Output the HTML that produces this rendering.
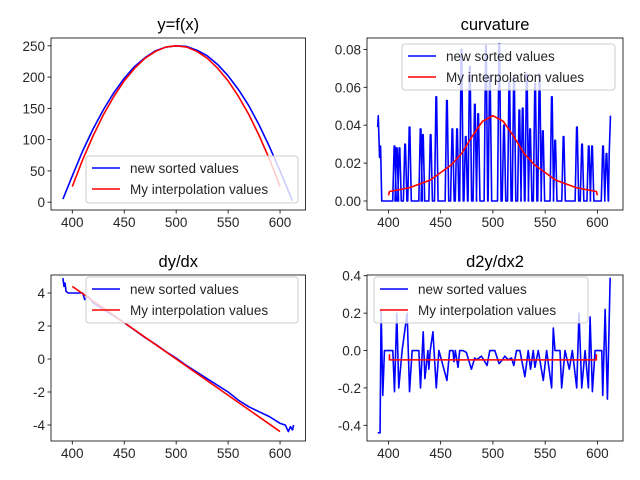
<!DOCTYPE html>
<html><head><meta charset="utf-8"><style>
body{margin:0;background:#fff;}
svg{display:block;font-family:"Liberation Sans","DejaVu Sans",sans-serif;}
</style></head><body>
<svg id="fig" width="640" height="480" viewBox="0 0 640 480"></svg>
<script>
// ---- data ----
const fBlueX=[391,400,410,420,430,440,450,460,470,480,490,500,510,520,530,540,550,560,570,580,590,600,612];
const fBlueY=[5,42,82,117,148,175,198,217,231,242,248,250,249,243,234,220,202,180,154,123,88,50,2];
const fRedX=[400,410,420,430,440,450,460,470,480,490,500,510,520,530,540,550,560,570,580,590,600];
const fRedY=[25,68,106,140,169,194,214,230,241,248,250,248,241,230,214,194,169,140,106,68,25];

const cStartX=[389.7,390.3,391.5,392.5,393.6,403.5];
const cStartY=[0.039,0.045,0.023,0.029,0,0];
const cSpikeX=[405.8,408,410.6,416,420.2,430.8,433,440.4,445.8,456,461.2,465.7,469.9,474,477.9,482.7,485.9,493.3,497.1,506.1,510.6,515.7,520.2,525.3,528.5,532.4,535.6,540.4,544.6,547.8,556.4,559.6,567.6,580.4,585.3,591.7,594.9,605.4,608.7];
const cSpikeY=[0.029,0.028,0.028,0.030,0.039,0.038,0.035,0.035,0.055,0.053,0.038,0.038,0.080,0.034,0.071,0.051,0.046,0.082,0.066,0.083,0.040,0.063,0.066,0.048,0.049,0.067,0.038,0.062,0.067,0.037,0.055,0.032,0.034,0.039,0.030,0.029,0.029,0.029,0.025];
const cEndX=[610.6,611.3,612.5];
const cEndY=[0,0.025,0.045];
const cRedX=[400,401,420,440,460,470,480,490,500,510,520,530,540,560,580,599,600];
const cRedY=[0.003,0.005,0.007,0.011,0.019,0.025,0.034,0.042,0.045,0.042,0.034,0.025,0.019,0.011,0.007,0.005,0.003];

const dBlueX=[391,392,393,394,396,400,410,412,415,420,430,440,450,460,470,480,490,500,510,520,530,540,550,560,570,580,590,600,605,608,610,612,613];
const dBlueY=[4.9,4.4,4.6,4.1,4.0,4.0,4.0,3.6,3.8,3.4,3.0,2.6,2.2,1.75,1.3,0.9,0.45,0.05,-0.4,-0.8,-1.2,-1.6,-2.0,-2.5,-2.9,-3.2,-3.5,-3.9,-4.0,-4.4,-4.1,-4.3,-4.0];
const dRedX=[400,600];
const dRedY=[4.4,-4.4];

const sBlueX=[389.8,392,393,394.6,396.2,404.2,405.8,408,409.9,413.1,417.9,420.2,422.7,429.1,430.7,433.3,434.9,437.8,438.7,440,442.6,445.8,448.3,456,458.6,461.8,462.7,464,466.6,468.2,471.4,474.6,479.4,482.6,484.2,486.7,489,491.2,494.4,497,501.8,505.9,509.1,511.4,514.6,517.8,520,522.6,525.8,530.6,533.8,536,538.6,540.2,543.4,548.2,551.4,556.2,557.8,559.4,564.2,565.8,569,573.1,576,580.2,582.4,585,588.2,591.4,593,595.2,597.8,604.2,605.1,607.4,609.6,612.2];
const sBlueY=[-0.44,-0.44,0.22,-0.24,0,0,-0.22,0.2,-0.2,0,0.2,-0.22,0,0,-0.2,0.1,-0.15,0,-0.1,0,0.1,-0.2,0,-0.16,0,0,-0.06,0,-0.09,0,0,-0.01,-0.1,-0.04,-0.05,-0.04,-0.03,-0.05,-0.08,0,0,-0.07,-0.05,-0.03,-0.05,-0.04,-0.08,0,0,-0.14,0,-0.1,0,-0.09,0,-0.16,0,-0.2,0.12,0,0,-0.2,0,-0.1,0,-0.2,0.2,-0.2,0,-0.2,0.18,-0.22,0,0,-0.24,0.22,-0.26,0.39];
const sRedX=[401,401,599,599];
const sRedY=[-0.02,-0.05,-0.05,-0.02];

const xTicks=[400,450,500,550,600];
const fTicks=[0,50,100,150,200,250];
const cTicks=[0,0.02,0.04,0.06,0.08];
const dTicks=[-4,-2,0,2,4];
const sTicks=[-0.4,-0.2,0,0.2,0.4];

// ---- drawing ----
const svg=document.getElementById('fig');
const NS='http://www.w3.org/2000/svg';
function mk(tag,attrs,parent){const e=document.createElementNS(NS,tag);for(const k in attrs)e.setAttribute(k,attrs[k]);(parent||svg).appendChild(e);return e;}

function panel(name,box,ydom,yTicks,yFmt,title,series,legendBox){
  const g=mk('g',{});
  
  
  const xs=v=>box.l+(v-379.5)/(624.5-379.5)*(box.r-box.l);
  const ys=v=>box.b-(v-ydom[0])/(ydom[1]-ydom[0])*(box.b-box.t);
  const clip='clip-'+name;
  const cp=mk('clipPath',{id:clip},g);mk('rect',{x:box.l,y:box.t,width:box.r-box.l,height:box.b-box.t},cp);
  series.forEach(s=>{
    let d='';
    s.x.forEach((v,i)=>{d+=(i?'L':'M')+xs(v).toFixed(2)+','+ys(s.y[i]).toFixed(2);});
    const p=mk('path',{d:d,fill:'none',stroke:s.c,'stroke-width':1.6,'clip-path':'url(#'+clip+')','stroke-linejoin':'round'},g);
    
    
  });
  const frame=mk('rect',{x:box.l,y:box.t,width:box.r-box.l,height:box.b-box.t,fill:'none',stroke:'#000','stroke-width':0.8},g);
  
  
  xTicks.forEach(v=>{const x=xs(v);mk('line',{x1:x,x2:x,y1:box.b,y2:box.b+3.5,stroke:'#000','stroke-width':0.8},g);
    const t=mk('text',{x:x,y:box.b+17,'font-size':13.5,'text-anchor':'middle',fill:'#262626'},g);t.textContent=v;
    
    });
  yTicks.forEach(v=>{const y=ys(v);mk('line',{x1:box.l-3.5,x2:box.l,y1:y,y2:y,stroke:'#000','stroke-width':0.8},g);
    const t=mk('text',{x:box.l-6,y:y+5,'font-size':13.5,'text-anchor':'end',fill:'#262626'},g);t.textContent=yFmt(v);
    
    });
  const tt=mk('text',{x:(box.l+box.r)/2,y:box.t-8,'font-size':16.5,'text-anchor':'middle',fill:'#000'},g);tt.textContent=title;
  
  
  const lg=mk('g',{},g);
  
  
  const L=legendBox;
  mk('rect',{x:L.x,y:L.y,width:L.w,height:L.h,rx:3,fill:'#fff','fill-opacity':0.8,stroke:'#ccc','stroke-width':1},lg);
  [['new sorted values','#0000ff'],['My interpolation values','#ff0000']].forEach((e,i)=>{
    const cy=L.y+12+i*21;
    const ln=mk('line',{x1:L.x+6,x2:L.x+34,y1:cy,y2:cy,stroke:e[1],'stroke-width':1.5},lg);
    
    
    const t=mk('text',{x:L.x+44,y:cy+5,'font-size':13.5,fill:'#262626'},lg);t.textContent=e[0];
    
    
  });
}
function zipCurv(){
  const X=[...cStartX],Y=[...cStartY];
  cSpikeX.forEach((c,i)=>{X.push(c-1.7,c-0.3,c+0.3,c+1.7);Y.push(0,cSpikeY[i],cSpikeY[i],0);});
  X.push(...cEndX);Y.push(...cEndY);
  return {x:X,y:Y};
}
const cb=zipCurv();
panel('panel-yfx',{l:51,r:305.5,t:38,b:210},[-12.5,262.5],fTicks,v=>String(v),'y=f(x)',
  [{x:fBlueX,y:fBlueY,c:'#0000ff',name:'line-new-sorted'},{x:fRedX,y:fRedY,c:'#ff0000',name:'line-interpolation'}],
  {x:86,y:156,w:212,h:47});
panel('panel-curvature',{l:367,r:623,t:38,b:210},[-0.00475,0.086],cTicks,v=>v.toFixed(2),'curvature',
  [{x:cb.x,y:cb.y,c:'#0000ff',name:'line-new-sorted'},{x:cRedX,y:cRedY,c:'#ff0000',name:'line-interpolation'}],
  {x:402,y:44,w:213,h:46});
panel('panel-dydx',{l:51,r:305.5,t:275,b:441},[-4.97,5.09],dTicks,v=>String(v),'dy/dx',
  [{x:dBlueX,y:dBlueY,c:'#0000ff',name:'line-new-sorted'},{x:dRedX,y:dRedY,c:'#ff0000',name:'line-interpolation'}],
  {x:86,y:277,w:212,h:46});
panel('panel-d2ydx2',{l:367,r:623,t:275,b:441},[-0.484,0.404],sTicks,v=>v.toFixed(1),'d2y/dx2',
  [{x:sBlueX,y:sBlueY,c:'#0000ff',name:'line-new-sorted'},{x:sRedX,y:sRedY,c:'#ff0000',name:'line-interpolation'}],
  {x:374,y:277,w:214,h:46});
</script>
</body></html>
